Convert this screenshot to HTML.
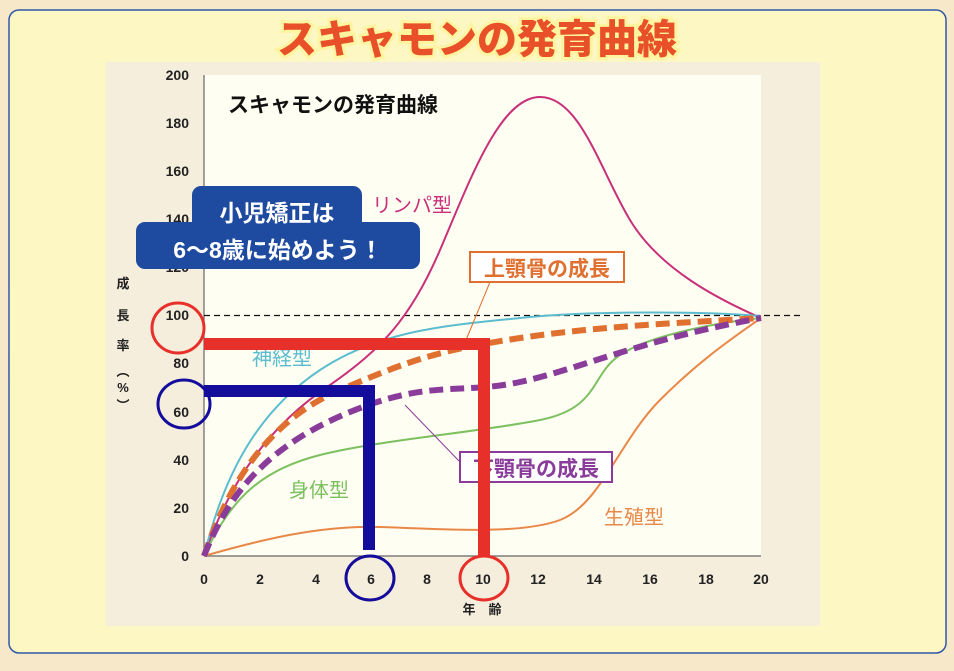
<!DOCTYPE html>
<html><head><meta charset="utf-8"><style>
body{margin:0;width:954px;height:666px;background:#f6e8c8;overflow:hidden;font-family:"Liberation Sans","Noto Sans CJK JP",sans-serif;}
</style></head><body>
<svg width="954" height="666" viewBox="0 0 954 666" xmlns="http://www.w3.org/2000/svg" font-family="Liberation Sans, Noto Sans CJK JP, sans-serif">
<rect x="9" y="10" width="937" height="643" rx="10" fill="#fdf7c4" stroke="#2f58a8" stroke-width="1.5"/>
<text x="477" y="53" text-anchor="middle" font-size="40" font-weight="900" fill="#e8502a" stroke="#fff4a0" stroke-width="6" paint-order="stroke">スキャモンの発育曲線</text>
<rect x="106" y="62" width="714" height="564" fill="#f6eedd"/>
<rect x="204" y="75" width="557" height="481" fill="#fffef2"/>
<text x="228" y="112" font-size="21" font-weight="bold" fill="#111">スキャモンの発育曲線</text>
<g stroke="#666" stroke-width="1.2" fill="none">
<line x1="204" y1="75" x2="204" y2="556"/><line x1="204" y1="556" x2="761" y2="556"/>
</g>
<g font-size="14" font-weight="bold" fill="#222" text-anchor="end">
<text x="189" y="80">200</text><text x="189" y="128">180</text><text x="189" y="176">160</text><text x="189" y="224">140</text><text x="189" y="272">120</text><text x="189" y="320">100</text><text x="189" y="368">80</text><text x="189" y="417">60</text><text x="189" y="465">40</text><text x="189" y="513">20</text><text x="189" y="561">0</text>
</g>
<g font-size="14" font-weight="bold" fill="#222" text-anchor="middle">
<text x="204" y="584">0</text><text x="260" y="584">2</text><text x="316" y="584">4</text><text x="371" y="584">6</text><text x="427" y="584">8</text><text x="483" y="584">10</text><text x="538" y="584">12</text><text x="594" y="584">14</text><text x="650" y="584">16</text><text x="706" y="584">18</text><text x="761" y="584">20</text>
<text x="482" y="614" font-size="13" font-weight="bold">年　齢</text>
</g>
<g font-size="13" font-weight="bold" fill="#222" text-anchor="middle">
<text x="123" y="288">成</text><text x="123" y="320">長</text><text x="123" y="350">率</text><text x="123" y="376">︵</text><text x="123" y="392">%</text><text x="123" y="410">︶</text>
</g>
<line x1="204" y1="315.5" x2="800" y2="315.5" stroke="#111" stroke-width="1.3" stroke-dasharray="6,4"/>
<g fill="none" stroke-width="2">
<path d="M204,556 C230,480 270,425 330,385 C380,350 410,320 440,250 C470,180 500,97 540,97 C580,97 600,170 630,220 S720,300 761,318" stroke="#c8307a"/>
<path d="M204,556 C225,470 260,410 320,370 S450,325 520,318 S700,311 761,316" stroke="#5bbcd0"/>
<path d="M204,556 C230,500 260,470 320,455 S480,432 540,420 S590,375 620,355 S720,322 761,318" stroke="#7cc060"/>
<path d="M204,556 C260,540 320,525 380,527 S520,535 560,520 S620,440 660,400 S730,340 761,318" stroke="#e88848"/>
</g>
<path d="M204,556 C230,480 270,420 340,390 S440,350 520,338 S680,323 761,318" fill="none" stroke="#e07030" stroke-width="6" stroke-dasharray="14,7"/>
<path d="M204,556 C230,490 270,445 350,412 S460,395 520,382 S640,340 761,318" fill="none" stroke="#8a3c9a" stroke-width="6" stroke-dasharray="14,7"/>
<line x1="490" y1="282" x2="466" y2="340" stroke="#e07030" stroke-width="1"/>
<line x1="460" y1="462" x2="405" y2="405" stroke="#8a3c9a" stroke-width="1"/>
<rect x="470" y="252" width="154" height="30" fill="#fff" stroke="#e07030" stroke-width="2"/>
<text x="547" y="276" text-anchor="middle" font-size="21" font-weight="bold" fill="#e07030">上顎骨の成長</text>
<rect x="460" y="452" width="152" height="30" fill="#fff" stroke="#8a3c9a" stroke-width="2"/>
<text x="536" y="476" text-anchor="middle" font-size="21" font-weight="bold" fill="#8a3c9a">下顎骨の成長</text>
<text x="372" y="212" font-size="20" fill="#c8307a">リンパ型</text>
<text x="252" y="365" font-size="20" fill="#5bbcd0">神経型</text>
<text x="289" y="497" font-size="20" fill="#7cc060">身体型</text>
<text x="604" y="524" font-size="20" fill="#e88848">生殖型</text>
<g stroke="#e8302a" stroke-width="12" fill="none"><path d="M204,344 H484 V556"/></g>
<g stroke="#140c9a" stroke-width="12" fill="none"><path d="M204,391 H369 V550"/></g>
<g fill="none" stroke-width="3">
<ellipse cx="178" cy="328" rx="26" ry="25" stroke="#e8302a"/>
<ellipse cx="184" cy="404" rx="26" ry="24" stroke="#140c9a"/>
<ellipse cx="370" cy="578" rx="24" ry="22" stroke="#140c9a"/>
<ellipse cx="484" cy="578" rx="24" ry="22" stroke="#e8302a"/>
</g>
<rect x="192" y="186" width="170" height="46" rx="9" fill="#1e4aa0"/>
<rect x="136" y="222" width="284" height="47" rx="9" fill="#1e4aa0"/>
<text x="277" y="221" text-anchor="middle" font-size="23" font-weight="bold" fill="#fff">小児矯正は</text>
<text x="278" y="258" text-anchor="middle" font-size="23" font-weight="bold" fill="#fff">6〜8歳に始めよう！</text>
</svg>
</body></html>
